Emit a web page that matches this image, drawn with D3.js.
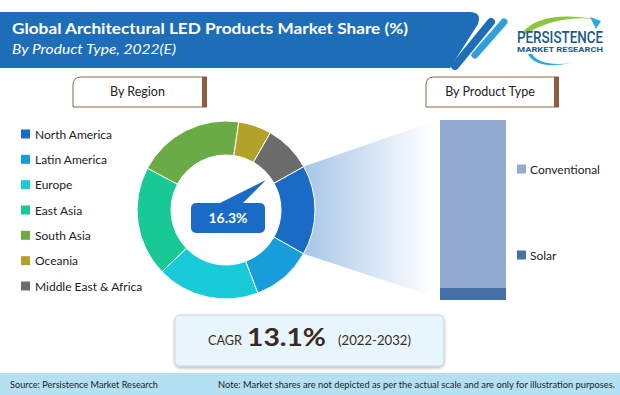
<!DOCTYPE html>
<html>
<head>
<meta charset="utf-8">
<script src="https://cdn.jsdelivr.net/npm/d3@7"></script>
<style>
  body { margin: 0; background: #fff; }
  svg { display: block; font-family: Lato, "Open Sans", sans-serif; }
</style>
</head>
<body>
<div id="chart"></div>
<script>
// region shares (%), legend order
const regions = ["North America", "Latin America", "Europe", "East Asia", "South Asia", "Oceania", "Middle East & Africa"];
const regionShares = [16.3, 11.0, 18.6, 20.0, 19.5, 6.0, 8.6];
const regionColors = ["#1a6bc6", "#179dda", "#19cbd8", "#19c995", "#6bab45", "#b2a22a", "#6c6c6c"];

// product type split of the highlighted slice (%)
const productTypes = ["Conventional", "Solar"];
const productShares = [93, 7];
const productColors = ["#93aad2", "#4570aa"];

const highlightLabel = "16.3%";
const cagrText = "13.1%";
const cagrPeriod = "(2022-2032)";

const W = 620, H = 395;
const svg = d3.select("#chart").append("svg")
  .attr("width", W)
  .attr("height", H);

const defs = svg.append("defs");

// ---- header band
svg.append("path")
  .attr("d", "M0,12 H470 Q482,12 478,24 L450,68 H0 Z")
  .attr("fill", "#1e6db8");
svg.append("line")
  .attr("x1", 491).attr("y1", 22).attr("x2", 455).attr("y2", 66)
  .attr("stroke", "#1e6db8").attr("stroke-width", 8).attr("stroke-linecap", "round");
svg.append("line")
  .attr("x1", 504).attr("y1", 22).attr("x2", 475).attr("y2", 55)
  .attr("stroke", "#2f9fdf").attr("stroke-width", 7).attr("stroke-linecap", "round");

svg.append("text")
  .attr("x", 12).attr("y", 34)
  .attr("fill", "#fff")
  .attr("font-size", 15).attr("font-weight", 700)
  .attr("textLength", 396).attr("lengthAdjust", "spacingAndGlyphs")
  .text("Global Architectural LED Products Market Share (%)");
svg.append("text")
  .attr("x", 12).attr("y", 54)
  .attr("fill", "#fff")
  .attr("font-size", 13).attr("font-style", "italic")
  .attr("textLength", 164).attr("lengthAdjust", "spacingAndGlyphs")
  .text("By Product Type, 2022(E)");

// ---- logo
const logo = svg.append("g");
logo.append("path")
  .attr("d", "M522,33 Q540,10 596,19 Q556,15 526,34 Z")
  .attr("fill", "#8cc63f");
logo.append("path")
  .attr("d", "M590,17 L601,21 L596,29 Z")
  .attr("fill", "#2aa8e0");
logo.append("path")
  .attr("d", "M528,54 Q536,70 572,63 Q540,67 532,54 Z")
  .attr("fill", "#2aa8e0");
logo.append("text")
  .attr("x", 517).attr("y", 43)
  .attr("fill", "#1d5a8a")
  .attr("font-family", "Roboto, sans-serif")
  .attr("font-size", 16).attr("font-weight", 500)
  .attr("textLength", 86).attr("lengthAdjust", "spacingAndGlyphs")
  .text("PERSISTENCE");
logo.append("text")
  .attr("x", 517).attr("y", 52)
  .attr("fill", "#1d5a8a")
  .attr("font-family", "Roboto, sans-serif")
  .attr("font-size", 6.5).attr("font-weight", 700)
  .attr("textLength", 86).attr("lengthAdjust", "spacingAndGlyphs")
  .text("MARKET RESEARCH");

// ---- section headers
function header(x0, x1, label) {
  const g = svg.append("g");
  g.append("path")
    .attr("d", `M${x1},77 H${x0 + 8} Q${x0},77 ${x0},85 V107 H${x1}`)
    .attr("fill", "#fff").attr("stroke", "#8b6547").attr("stroke-width", 1);
  g.append("rect")
    .attr("x", x1 - 5).attr("y", 77).attr("width", 5).attr("height", 30)
    .attr("fill", "#8b5e3c");
  g.append("text")
    .attr("x", (x0 + x1 - 5) / 2).attr("y", 96)
    .attr("text-anchor", "middle")
    .attr("font-size", 12.5).attr("fill", "#222")
    .text(label);
}
header(73, 207, "By Region");
header(426, 559, "By Product Type");

// ---- donut
const cx = 226, cy = 210, rOuter = 89, rInner = 55;
const startAngle = 60.8 * Math.PI / 180;

const pie = d3.pie().sort(null)
  .startAngle(startAngle)
  .endAngle(startAngle + 2 * Math.PI);
const arcs = pie(regionShares);
const arc = d3.arc().innerRadius(rInner).outerRadius(rOuter);

// ---- product bar scales
const barX0 = 440, barW = 66;
const y = d3.scaleLinear().domain([0, 100]).range([300, 120]);

// funnel from highlighted slice to the bar
const grad = defs.append("linearGradient")
  .attr("id", "funnel")
  .attr("x1", "0%").attr("x2", "100%").attr("y1", "0%").attr("y2", "0%");
grad.append("stop").attr("offset", "0%").attr("stop-color", "#a7c6e8");
grad.append("stop").attr("offset", "100%").attr("stop-color", "#ffffff");

const hl = arcs[0];
const pt = a => [cx + rOuter * Math.sin(a), cy - rOuter * Math.cos(a)];
const [ax, ay] = pt(hl.startAngle);
const [bx, by] = pt(hl.endAngle);
svg.append("path")
  .attr("d", `M${ax},${ay} L${barX0 - 8},${y(100) + 2} L${barX0 - 8},${y(0) - 4} L${bx},${by} Z`)
  .attr("fill", "url(#funnel)");

const donut = svg.append("g").attr("transform", `translate(${cx},${cy})`);
donut.selectAll("path")
  .data(arcs)
  .join("path")
  .attr("d", arc)
  .attr("fill", (d, i) => regionColors[i])
  .attr("stroke", "#fff")
  .attr("stroke-width", 1);

// callout
svg.append("path")
  .attr("d", "M218,204 Q244,191 266,180 L242,204 Z")
  .attr("fill", "#1a6bc6");
svg.append("rect")
  .attr("x", 191).attr("y", 203).attr("width", 74).attr("height", 30)
  .attr("rx", 5)
  .attr("fill", "#1a6bc6");
svg.append("text")
  .attr("x", 228).attr("y", 223)
  .attr("text-anchor", "middle")
  .attr("fill", "#fff")
  .attr("font-size", 14).attr("font-weight", 700)
  .text(highlightLabel);

// region legend
const legend = svg.append("g");
const ly = d3.scalePoint().domain(regions).range([134, 286]);
legend.selectAll("rect")
  .data(regions)
  .join("rect")
  .attr("x", 21).attr("y", d => ly(d) - 4.5)
  .attr("width", 9).attr("height", 9)
  .attr("fill", (d, i) => regionColors[i]);
legend.selectAll("text")
  .data(regions)
  .join("text")
  .attr("x", 35).attr("y", d => ly(d) + 4.5)
  .attr("font-size", 12).attr("fill", "#222")
  .text(d => d);

// stacked product bar (Solar at the base)
const productColor = d3.scaleOrdinal().domain(productTypes).range(productColors);
const stackKeys = productTypes.slice().reverse();
const row = Object.fromEntries(productTypes.map((k, i) => [k, productShares[i]]));
const stack = d3.stack().keys(stackKeys)([row]);
svg.append("g").selectAll("rect")
  .data(stack)
  .join("rect")
  .attr("x", barX0).attr("width", barW)
  .attr("y", d => y(d[0][1]))
  .attr("height", d => y(d[0][0]) - y(d[0][1]))
  .attr("fill", d => productColor(d.key));

const plY = d3.scaleOrdinal().domain(productTypes).range([169, 255]);
const pleg = svg.append("g");
pleg.selectAll("rect")
  .data(productTypes)
  .join("rect")
  .attr("x", 517).attr("y", d => plY(d) - 4.5)
  .attr("width", 9).attr("height", 9)
  .attr("fill", d => productColor(d));
pleg.selectAll("text")
  .data(productTypes)
  .join("text")
  .attr("x", 530).attr("y", d => plY(d) + 4.5)
  .attr("font-size", 12).attr("fill", "#222")
  .text(d => d);

// ---- CAGR box
const shadow = defs.append("filter").attr("id", "shadow")
  .attr("x", "-10%").attr("y", "-20%").attr("width", "120%").attr("height", "150%");
shadow.append("feDropShadow")
  .attr("dx", 0).attr("dy", 1.5).attr("stdDeviation", 1.5)
  .attr("flood-color", "#000").attr("flood-opacity", 0.3);
svg.append("rect")
  .attr("x", 175).attr("y", 315).attr("width", 269).attr("height", 51)
  .attr("rx", 5)
  .attr("fill", "#e7f6fc").attr("stroke", "#cfd6da").attr("stroke-width", 1)
  .attr("filter", "url(#shadow)");
svg.append("text")
  .attr("x", 208).attr("y", 345)
  .attr("font-size", 13).attr("fill", "#3a2a22")
  .attr("textLength", 34).attr("lengthAdjust", "spacingAndGlyphs")
  .text("CAGR");
svg.append("text")
  .attr("x", 247).attr("y", 346)
  .attr("font-size", 25).attr("font-weight", 700).attr("fill", "#3a2a22")
  .attr("textLength", 79).attr("lengthAdjust", "spacingAndGlyphs")
  .text(cagrText);
svg.append("text")
  .attr("x", 338).attr("y", 345)
  .attr("font-size", 13).attr("fill", "#3a2a22")
  .attr("textLength", 73).attr("lengthAdjust", "spacingAndGlyphs")
  .text(cagrPeriod);

// ---- footer
svg.append("rect")
  .attr("x", 0).attr("y", 373).attr("width", W).attr("height", 22)
  .attr("fill", "#b3e0f3");
svg.append("text")
  .attr("x", 10).attr("y", 388)
  .attr("font-size", 10).attr("fill", "#222")
  .attr("textLength", 148).attr("lengthAdjust", "spacingAndGlyphs")
  .text("Source: Persistence Market Research");
svg.append("text")
  .attr("x", 218).attr("y", 388)
  .attr("font-size", 10).attr("fill", "#222")
  .attr("textLength", 397).attr("lengthAdjust", "spacingAndGlyphs")
  .text("Note: Market shares are not depicted as per the actual scale and are only for illustration purposes.");
</script>
</body>
</html>
